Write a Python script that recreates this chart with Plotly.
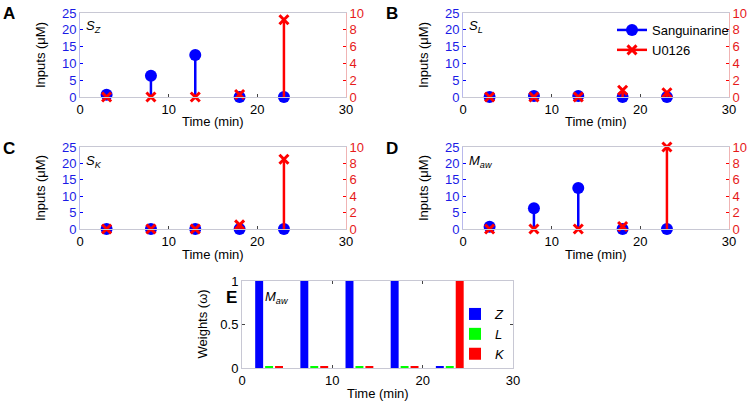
import plotly.graph_objects as go

# ---------------- data ----------------
times = [3, 8, 13, 18, 23]

sang_A = [0.7, 6.3, 12.5, 0.0, 0.0]
u0126_A = [0.0, 0.0, 0.0, 0.3, 9.2]

sang_B = [0.0, 0.3, 0.3, 0.0, 0.0]
u0126_B = [0.0, 0.0, 0.0, 0.8, 0.5]

sang_C = [0.0, 0.0, 0.0, 0.0, 0.0]
u0126_C = [0.0, 0.0, 0.0, 0.5, 8.5]

sang_D = [0.7, 6.3, 12.5, 0.0, 0.0]
u0126_D = [0.0, 0.0, 0.0, 0.3, 10.0]

weight_Z = [1.0, 1.0, 1.0, 1.0, 0.012]
weight_L = [0.012, 0.012, 0.012, 0.012, 0.012]
weight_K = [0.012, 0.012, 0.012, 0.012, 1.0]

panel_labels = ["A", "B", "C", "D", "E"]
panel_tags = ["<i>S</i><sub><i>Z</i></sub>", "<i>S</i><sub><i>L</i></sub>",
              "<i>S</i><sub><i>K</i></sub>", "<i>M</i><sub><i>aw</i></sub>",
              "<i>M</i><sub><i>aw</i></sub>"]
x_ticks = [0, 10, 20, 30]
left_ticks = [0, 5, 10, 15, 20, 25]
right_ticks = [0, 2, 4, 6, 8, 10]
weight_ticks = [0, 0.5, 1]
x_title = "Time (min)"
y_title = "Inputs (μM)"
w_title = "Weights (ω)"

# ---------------- style ----------------
W, H = 751, 406
FONT = "Liberation Sans"
BLUE = "#0000ff"
RED = "#ff0000"
GREEN = "#00ff00"
BLUE_TXT = "#1a1ae6"
RED_TXT = "#e61a1a"
SPINE = "#c8c8d4"
TICKC = "#444444"

def px_x(p):
    return p / W

def px_y(p):
    return 1 - p / H

# plot areas in pixels: (left, right, top, bottom)
boxes = [(80, 346, 13, 97), (463, 729, 13, 97),
         (80, 346, 147, 229), (463, 729, 147, 229)]
box_E = (242, 513, 281, 368)

series = [(sang_A, u0126_A), (sang_B, u0126_B), (sang_C, u0126_C), (sang_D, u0126_D)]

fig = go.Figure()
layout = dict(
    width=W, height=H, margin=dict(l=0, r=0, t=0, b=0, autoexpand=False),
    paper_bgcolor="white", plot_bgcolor="white",
    font=dict(family=FONT, size=13, color="black"),
    barmode="group", bargap=0.34, bargroupgap=0.2,
    showlegend=True,
)

annotations = []

def add_titles(l, r, t, b, ytext):
    annotations.append(dict(
        text=x_title, xref="paper", yref="paper",
        x=px_x((l + r) / 2), y=px_y(b + 25), xanchor="center", yanchor="middle",
        showarrow=False, font=dict(size=13, color="black")))
    annotations.append(dict(
        text=ytext, xref="paper", yref="paper", textangle=-90,
        x=px_x(l - 40), y=px_y((t + b) / 2), xanchor="center", yanchor="middle",
        showarrow=False, font=dict(size=13, color="black")))

for i, ((l, r, t, b), (sang, u0)) in enumerate(zip(boxes, series)):
    xa = f"x{i+1}" if i > 0 else "x"
    ya_l = f"y{2*i+1}" if i > 0 else "y"
    ya_r = f"y{2*i+2}"
    xkey = "xaxis" if i == 0 else f"xaxis{i+1}"
    ylkey = "yaxis" if i == 0 else f"yaxis{2*i+1}"
    yrkey = f"yaxis{2*i+2}"
    zeros = [0] * len(times)

    fig.add_trace(go.Scatter(
        x=times, y=sang, mode="markers", xaxis=xa, yaxis=ya_l,
        marker=dict(color=BLUE, size=12), cliponaxis=False, showlegend=False,
        error_y=dict(type="data", symmetric=False, array=zeros, arrayminus=sang,
                     width=0, thickness=2.5, color=BLUE),
        hoverinfo="skip"))
    fig.add_trace(go.Scatter(
        x=times, y=u0, mode="markers", xaxis=xa, yaxis=ya_r,
        marker=dict(color=RED, size=9, symbol="x-thin", line=dict(color=RED, width=3)),
        cliponaxis=False, showlegend=False,
        error_y=dict(type="data", symmetric=False, array=zeros, arrayminus=u0,
                     width=0, thickness=2.5, color=RED),
        hoverinfo="skip"))

    layout[xkey] = dict(
        domain=[px_x(l), px_x(r)], anchor=ya_l, range=[0, 30], tickvals=x_ticks,
        showline=True, linecolor=SPINE, linewidth=1, mirror=True, automargin=False,
        ticks="inside", ticklen=3, tickcolor=TICKC, showgrid=False, zeroline=False,
        tickfont=dict(size=13, color="black"), ticklabeloverflow="allow")
    layout[ylkey] = dict(
        domain=[px_y(b), px_y(t)], anchor=xa, range=[0, 25], tickvals=left_ticks,
        showline=True, linecolor="#b8b8ec", linewidth=1, automargin=False,
        ticks="inside", ticklen=3, tickcolor=BLUE, showgrid=False, zeroline=False,
        tickfont=dict(size=13, color=BLUE_TXT), ticklabeloverflow="allow")
    layout[yrkey] = dict(
        overlaying=ya_l, anchor=xa, side="right", range=[0, 10], tickvals=right_ticks,
        showline=True, linecolor="#f0b4b4", linewidth=1, automargin=False,
        ticks="inside", ticklen=3, tickcolor=RED, showgrid=False, zeroline=False,
        tickfont=dict(size=13, color=RED_TXT), ticklabeloverflow="allow")

    add_titles(l, r, t, b, y_title)
    annotations.append(dict(
        text=f"<b>{panel_labels[i]}</b>", xref="paper", yref="paper",
        x=px_x(l - 71), y=px_y(t + 1), xanchor="center", yanchor="middle",
        showarrow=False, font=dict(size=17, color="black")))
    annotations.append(dict(
        text=panel_tags[i], xref="paper", yref="paper",
        x=px_x(l + 4), y=px_y(t + 14), xanchor="left", yanchor="middle",
        showarrow=False, font=dict(size=13, color="black")))

# legend entries (panel B)
fig.add_trace(go.Scatter(
    x=[None], y=[None], mode="lines+markers", name="Sanguinarine",
    xaxis="x2", yaxis="y3", line=dict(color=BLUE, width=2.5),
    marker=dict(color=BLUE, size=12), legend="legend"))
fig.add_trace(go.Scatter(
    x=[None], y=[None], mode="lines+markers", name="U0126",
    xaxis="x2", yaxis="y3", line=dict(color=RED, width=2.5),
    marker=dict(color=RED, size=9, symbol="x-thin", line=dict(color=RED, width=3)),
    legend="legend"))

layout["legend"] = dict(
    x=px_x(612), y=px_y(15), xanchor="left", yanchor="top",
    bgcolor="rgba(0,0,0,0)", font=dict(size=13), itemwidth=30,
    tracegroupgap=0)

# panel E bars
l, r, t, b = box_E
for vals, name, col in [(weight_Z, "<i>Z</i>", BLUE), (weight_L, "<i>L</i>", GREEN),
                        (weight_K, "<i>K</i>", RED)]:
    fig.add_trace(go.Bar(
        x=times, y=vals, name=name, marker=dict(color=col, line=dict(width=0)),
        xaxis="x5", yaxis="y9", legend="legend2", hoverinfo="skip"))

layout["xaxis5"] = dict(
    domain=[px_x(l), px_x(r)], anchor="y9", range=[0, 30], tickvals=x_ticks,
    showline=True, linecolor=SPINE, linewidth=1, mirror="ticks", automargin=False,
    ticks="inside", ticklen=3, tickcolor=TICKC, showgrid=False, zeroline=False,
    tickfont=dict(size=13, color="black"), ticklabeloverflow="allow")
layout["yaxis9"] = dict(
    domain=[px_y(b), px_y(t)], anchor="x5", range=[0, 1], tickvals=weight_ticks,
    showline=True, linecolor=SPINE, linewidth=1, mirror="ticks", automargin=False,
    ticks="inside", ticklen=3, tickcolor=TICKC, showgrid=False, zeroline=False,
    tickfont=dict(size=13, color="black"), ticklabeloverflow="allow")
layout["legend2"] = dict(
    x=px_x(455), y=px_y(299), xanchor="left", yanchor="top",
    bgcolor="rgba(0,0,0,0)", font=dict(size=13), itemwidth=30,
    tracegroupgap=0)

add_titles(l, r, t, b, w_title)
annotations.append(dict(
    text=f"<b>{panel_labels[4]}</b>", xref="paper", yref="paper",
    x=px_x(232), y=px_y(297), xanchor="center", yanchor="middle",
    showarrow=False, font=dict(size=17, color="black")))
annotations.append(dict(
    text=panel_tags[4], xref="paper", yref="paper",
    x=px_x(l + 21), y=px_y(t + 16), xanchor="left", yanchor="middle",
    showarrow=False, font=dict(size=13, color="black")))

layout["annotations"] = annotations
fig.update_layout(**layout)
fig.write_html("out.html", config={"displayModeBar": False},
               post_script="document.body.style.margin='0';document.body.style.padding='0';")
